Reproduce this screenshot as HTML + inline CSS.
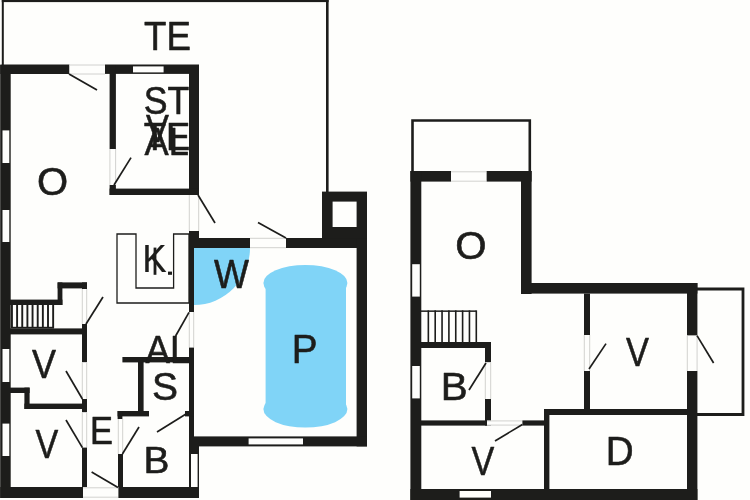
<!DOCTYPE html>
<html><head><meta charset="utf-8"><title>Floor plan</title>
<style>
html,body{margin:0;padding:0;background:#fefefc;}
body{width:750px;height:500px;overflow:hidden;}
svg{display:block;}
text{font-family:"Liberation Sans",sans-serif;fill:#1d1d1b;stroke:#1d1d1b;stroke-width:0.6px;stroke-linejoin:round;}
</style></head><body>
<svg width="750" height="500" viewBox="0 0 750 500">
<rect x="0" y="0" width="750" height="500" fill="#fefefc"/>
<rect x="1.8" y="0" width="2" height="66" fill="#1d1d1b"/>
<rect x="1.8" y="0" width="326.8" height="2.1" fill="#1d1d1b"/>
<rect x="326" y="0" width="2.6" height="192" fill="#1d1d1b"/>
<path d="M194 248 L250 248 A56 57 0 0 1 194 305 Z" fill="#80d4f7"/>
<ellipse cx="305.4" cy="283" rx="42" ry="18" fill="#80d4f7"/>
<ellipse cx="305.4" cy="409" rx="42" ry="18.6" fill="#80d4f7"/>
<rect x="265.6" y="283" width="80.4" height="126" fill="#80d4f7"/>
<rect x="0.2" y="65" width="10.5" height="433" fill="#1d1d1b"/>
<rect x="0.3" y="64.5" width="69.2" height="9.5" fill="#1d1d1b"/>
<rect x="105" y="64.5" width="94" height="9.4" fill="#1d1d1b"/>
<rect x="69.5" y="64.7" width="35.5" height="9.6" fill="#fefefc"/>
<line x1="69.5" y1="65" x2="105" y2="65" stroke="#cdcdcb" stroke-width="0.9" stroke-linecap="butt"/>
<line x1="69.5" y1="74" x2="105" y2="74" stroke="#cdcdcb" stroke-width="0.9" stroke-linecap="butt"/>
<rect x="109.6" y="65" width="6.3" height="84" fill="#1d1d1b"/>
<rect x="109.6" y="149" width="6.3" height="36" fill="#fefefc"/>
<line x1="109.9" y1="149" x2="109.9" y2="185" stroke="#cdcdcb" stroke-width="0.9" stroke-linecap="butt"/>
<line x1="115.6" y1="149" x2="115.6" y2="185" stroke="#cdcdcb" stroke-width="0.9" stroke-linecap="butt"/>
<rect x="109.6" y="185" width="6.3" height="10" fill="#1d1d1b"/>
<rect x="189" y="65" width="10" height="130" fill="#1d1d1b"/>
<rect x="109.6" y="188.6" width="89.4" height="6.4" fill="#1d1d1b"/>
<rect x="189" y="195" width="10" height="36" fill="#fefefc"/>
<line x1="189.3" y1="195" x2="189.3" y2="231" stroke="#cdcdcb" stroke-width="0.9" stroke-linecap="butt"/>
<line x1="198.7" y1="195" x2="198.7" y2="231" stroke="#cdcdcb" stroke-width="0.9" stroke-linecap="butt"/>
<rect x="189" y="231" width="10" height="17" fill="#1d1d1b"/>
<rect x="189" y="238" width="61" height="10" fill="#1d1d1b"/>
<rect x="250" y="238" width="36" height="10" fill="#fefefc"/>
<line x1="250" y1="238.3" x2="286" y2="238.3" stroke="#cdcdcb" stroke-width="0.9" stroke-linecap="butt"/>
<line x1="250" y1="247.7" x2="286" y2="247.7" stroke="#cdcdcb" stroke-width="0.9" stroke-linecap="butt"/>
<rect x="286" y="238" width="81" height="10" fill="#1d1d1b"/>
<rect x="356.6" y="238" width="10.4" height="208.4" fill="#1d1d1b"/>
<rect x="189" y="436.4" width="178" height="10" fill="#1d1d1b"/>
<rect x="189" y="248" width="5" height="64" fill="#1d1d1b"/>
<rect x="189" y="312" width="5" height="35.6" fill="#fefefc"/>
<line x1="189.3" y1="312" x2="189.3" y2="347.6" stroke="#cdcdcb" stroke-width="0.9" stroke-linecap="butt"/>
<line x1="193.7" y1="312" x2="193.7" y2="347.6" stroke="#cdcdcb" stroke-width="0.9" stroke-linecap="butt"/>
<rect x="189" y="347.6" width="5" height="89.4" fill="#1d1d1b"/>
<rect x="322" y="191.6" width="45" height="46.9" fill="#1d1d1b"/>
<rect x="332.6" y="201.6" width="24" height="25.4" fill="#fefefc"/>
<polygon points="117,234 136,234 136,288 173.6,288 173.6,234 189,234 189,303 117,303" fill="none" stroke="#1d1d1b" stroke-width="1.3" stroke-linejoin="miter"/>
<rect x="57.6" y="282.4" width="29.4" height="6" fill="#1d1d1b"/>
<rect x="57.6" y="282.4" width="4.8" height="22.6" fill="#1d1d1b"/>
<rect x="10" y="299.6" width="52.4" height="5.4" fill="#1d1d1b"/>
<rect x="82" y="282.4" width="5" height="6.6" fill="#1d1d1b"/>
<rect x="82" y="289" width="5" height="35" fill="#fefefc"/>
<line x1="82.3" y1="289" x2="82.3" y2="324" stroke="#cdcdcb" stroke-width="0.9" stroke-linecap="butt"/>
<line x1="86.7" y1="289" x2="86.7" y2="324" stroke="#cdcdcb" stroke-width="0.9" stroke-linecap="butt"/>
<rect x="11" y="305" width="1.9" height="23" fill="#1d1d1b"/>
<rect x="16.15" y="305" width="1.9" height="23" fill="#1d1d1b"/>
<rect x="21.3" y="305" width="1.9" height="23" fill="#1d1d1b"/>
<rect x="26.45" y="305" width="1.9" height="23" fill="#1d1d1b"/>
<rect x="31.6" y="305" width="1.9" height="23" fill="#1d1d1b"/>
<rect x="36.75" y="305" width="1.9" height="23" fill="#1d1d1b"/>
<rect x="41.9" y="305" width="1.9" height="23" fill="#1d1d1b"/>
<rect x="47.05" y="305" width="1.9" height="23" fill="#1d1d1b"/>
<rect x="52.2" y="305" width="1.9" height="23" fill="#1d1d1b"/>
<rect x="11" y="326.8" width="43" height="1.8" fill="#1d1d1b"/>
<rect x="10" y="328.4" width="77" height="6" fill="#1d1d1b"/>
<rect x="82" y="324" width="5" height="38.4" fill="#1d1d1b"/>
<rect x="82" y="362.4" width="5" height="36.6" fill="#fefefc"/>
<line x1="82.3" y1="362.4" x2="82.3" y2="399" stroke="#cdcdcb" stroke-width="0.9" stroke-linecap="butt"/>
<line x1="86.7" y1="362.4" x2="86.7" y2="399" stroke="#cdcdcb" stroke-width="0.9" stroke-linecap="butt"/>
<rect x="82" y="399" width="5" height="13.4" fill="#1d1d1b"/>
<rect x="10" y="387.6" width="19.6" height="5.4" fill="#1d1d1b"/>
<rect x="24.4" y="387.6" width="5.2" height="21.4" fill="#1d1d1b"/>
<rect x="24.4" y="403.6" width="62.6" height="5.4" fill="#1d1d1b"/>
<rect x="82" y="412.4" width="5" height="35.2" fill="#fefefc"/>
<line x1="82.3" y1="412.4" x2="82.3" y2="447.6" stroke="#cdcdcb" stroke-width="0.9" stroke-linecap="butt"/>
<line x1="86.7" y1="412.4" x2="86.7" y2="447.6" stroke="#cdcdcb" stroke-width="0.9" stroke-linecap="butt"/>
<rect x="82" y="447.6" width="5" height="39.4" fill="#1d1d1b"/>
<rect x="0.3" y="487" width="82.7" height="11" fill="#1d1d1b"/>
<rect x="83" y="487.5" width="35.4" height="10" fill="#fefefc"/>
<line x1="83" y1="487.8" x2="118.4" y2="487.8" stroke="#cdcdcb" stroke-width="0.9" stroke-linecap="butt"/>
<line x1="83" y1="497.2" x2="118.4" y2="497.2" stroke="#cdcdcb" stroke-width="0.9" stroke-linecap="butt"/>
<rect x="118.4" y="487" width="80.6" height="11" fill="#1d1d1b"/>
<rect x="118" y="454" width="5" height="33" fill="#1d1d1b"/>
<rect x="118" y="419" width="5" height="35" fill="#fefefc"/>
<line x1="118.3" y1="419" x2="118.3" y2="454" stroke="#cdcdcb" stroke-width="0.9" stroke-linecap="butt"/>
<line x1="122.7" y1="419" x2="122.7" y2="454" stroke="#cdcdcb" stroke-width="0.9" stroke-linecap="butt"/>
<rect x="122.4" y="357" width="66.6" height="5.4" fill="#1d1d1b"/>
<rect x="138" y="362" width="5.6" height="49" fill="#1d1d1b"/>
<rect x="117.6" y="411" width="31.4" height="5.4" fill="#1d1d1b"/>
<rect x="117.6" y="411" width="4.8" height="8" fill="#1d1d1b"/>
<rect x="185" y="411" width="9" height="5.4" fill="#1d1d1b"/>
<rect x="189" y="437" width="10" height="61" fill="#1d1d1b"/>
<rect x="191" y="454" width="6.6" height="33" fill="#fefefc"/>
<rect x="2.5" y="130.4" width="6.8" height="32.6" fill="#fefefc"/>
<rect x="2.5" y="210" width="6.8" height="32" fill="#fefefc"/>
<rect x="2.5" y="349" width="6.8" height="33" fill="#fefefc"/>
<rect x="2.5" y="423.6" width="6.8" height="32.4" fill="#fefefc"/>
<rect x="133" y="66.4" width="30.6" height="6" fill="#fefefc"/>
<rect x="248.6" y="438.4" width="54.4" height="6" fill="#fefefc"/>
<line x1="69" y1="74" x2="97" y2="90" stroke="#1d1d1b" stroke-width="1.7" stroke-linecap="butt"/>
<line x1="114" y1="185" x2="131" y2="157.6" stroke="#1d1d1b" stroke-width="1.7" stroke-linecap="butt"/>
<line x1="198" y1="195" x2="215" y2="223" stroke="#1d1d1b" stroke-width="1.7" stroke-linecap="butt"/>
<line x1="286" y1="238" x2="258" y2="222.4" stroke="#1d1d1b" stroke-width="1.7" stroke-linecap="butt"/>
<line x1="189" y1="312.4" x2="175.6" y2="336" stroke="#1d1d1b" stroke-width="1.7" stroke-linecap="butt"/>
<line x1="86" y1="324" x2="103" y2="297" stroke="#1d1d1b" stroke-width="1.7" stroke-linecap="butt"/>
<line x1="82.4" y1="399" x2="66" y2="371" stroke="#1d1d1b" stroke-width="1.7" stroke-linecap="butt"/>
<line x1="82.4" y1="447.6" x2="66" y2="420" stroke="#1d1d1b" stroke-width="1.7" stroke-linecap="butt"/>
<line x1="118" y1="487.6" x2="91.6" y2="472" stroke="#1d1d1b" stroke-width="1.7" stroke-linecap="butt"/>
<line x1="122.4" y1="454" x2="139" y2="427" stroke="#1d1d1b" stroke-width="1.7" stroke-linecap="butt"/>
<line x1="186" y1="414" x2="157" y2="432" stroke="#1d1d1b" stroke-width="1.7" stroke-linecap="butt"/>
<polyline points="412.5,172 412.5,120.5 529.8,120.5 529.8,172" fill="none" stroke="#1d1d1b" stroke-width="2.6" stroke-linejoin="miter"/>
<rect x="410.4" y="171" width="40.6" height="10.6" fill="#1d1d1b"/>
<rect x="486.4" y="171" width="45.2" height="10.6" fill="#1d1d1b"/>
<rect x="451" y="171.5" width="35.4" height="10" fill="#fefefc"/>
<line x1="451" y1="171.8" x2="486.4" y2="171.8" stroke="#cdcdcb" stroke-width="0.9" stroke-linecap="butt"/>
<line x1="451" y1="181.2" x2="486.4" y2="181.2" stroke="#cdcdcb" stroke-width="0.9" stroke-linecap="butt"/>
<rect x="410.4" y="171" width="10.9" height="329" fill="#1d1d1b"/>
<rect x="521" y="171" width="10.6" height="123" fill="#1d1d1b"/>
<rect x="521" y="283" width="176.4" height="10.6" fill="#1d1d1b"/>
<rect x="687" y="283" width="10.4" height="52.6" fill="#1d1d1b"/>
<rect x="687" y="335.6" width="10.4" height="35.4" fill="#fefefc"/>
<line x1="687.3" y1="335.6" x2="687.3" y2="371" stroke="#cdcdcb" stroke-width="0.9" stroke-linecap="butt"/>
<line x1="697.1" y1="335.6" x2="697.1" y2="371" stroke="#cdcdcb" stroke-width="0.9" stroke-linecap="butt"/>
<rect x="687" y="371" width="10.4" height="129" fill="#1d1d1b"/>
<rect x="410.4" y="489" width="287" height="11" fill="#1d1d1b"/>
<rect x="459.6" y="491" width="31.4" height="6.6" fill="#fefefc"/>
<rect x="412.2" y="264.2" width="7.6" height="32.4" fill="#fefefc"/>
<rect x="412.2" y="366" width="7.6" height="32.4" fill="#fefefc"/>
<rect x="421" y="310.4" width="55.4" height="1.5" fill="#1d1d1b"/>
<rect x="427.55" y="310.4" width="1.6" height="31.6" fill="#1d1d1b"/>
<rect x="434.4" y="310.4" width="1.6" height="31.6" fill="#1d1d1b"/>
<rect x="441.25" y="310.4" width="1.6" height="31.6" fill="#1d1d1b"/>
<rect x="448.1" y="310.4" width="1.6" height="31.6" fill="#1d1d1b"/>
<rect x="454.95" y="310.4" width="1.6" height="31.6" fill="#1d1d1b"/>
<rect x="461.8" y="310.4" width="1.6" height="31.6" fill="#1d1d1b"/>
<rect x="468.65" y="310.4" width="1.6" height="31.6" fill="#1d1d1b"/>
<rect x="475.5" y="310.4" width="1.6" height="31.6" fill="#1d1d1b"/>
<rect x="421" y="342" width="70" height="6" fill="#1d1d1b"/>
<rect x="485" y="342" width="6" height="20.4" fill="#1d1d1b"/>
<rect x="485" y="362.4" width="6" height="36.6" fill="#fefefc"/>
<line x1="485.3" y1="362.4" x2="485.3" y2="399" stroke="#cdcdcb" stroke-width="0.9" stroke-linecap="butt"/>
<line x1="490.7" y1="362.4" x2="490.7" y2="399" stroke="#cdcdcb" stroke-width="0.9" stroke-linecap="butt"/>
<rect x="485" y="399" width="6" height="26.6" fill="#1d1d1b"/>
<rect x="421" y="420.4" width="66" height="5.2" fill="#1d1d1b"/>
<rect x="487" y="420.6" width="35.4" height="4.8" fill="#fefefc"/>
<line x1="487" y1="420.9" x2="522.4" y2="420.9" stroke="#cdcdcb" stroke-width="0.9" stroke-linecap="butt"/>
<line x1="487" y1="425.1" x2="522.4" y2="425.1" stroke="#cdcdcb" stroke-width="0.9" stroke-linecap="butt"/>
<rect x="522.4" y="420.4" width="21.6" height="5.2" fill="#1d1d1b"/>
<rect x="544" y="409" width="5.4" height="80" fill="#1d1d1b"/>
<rect x="544" y="409" width="143" height="6" fill="#1d1d1b"/>
<rect x="584" y="293.6" width="6" height="41.4" fill="#1d1d1b"/>
<rect x="584" y="335" width="6" height="36" fill="#fefefc"/>
<line x1="584.3" y1="335" x2="584.3" y2="371" stroke="#cdcdcb" stroke-width="0.9" stroke-linecap="butt"/>
<line x1="589.7" y1="335" x2="589.7" y2="371" stroke="#cdcdcb" stroke-width="0.9" stroke-linecap="butt"/>
<rect x="584" y="371" width="6" height="38" fill="#1d1d1b"/>
<polyline points="697,289 743,289 743,414.5 697,414.5" fill="none" stroke="#1d1d1b" stroke-width="2.8" stroke-linejoin="miter"/>
<line x1="486" y1="363" x2="469" y2="390" stroke="#1d1d1b" stroke-width="1.7" stroke-linecap="butt"/>
<line x1="522.4" y1="424.4" x2="495" y2="441" stroke="#1d1d1b" stroke-width="1.7" stroke-linecap="butt"/>
<line x1="589" y1="369" x2="606" y2="343.6" stroke="#1d1d1b" stroke-width="1.7" stroke-linecap="butt"/>
<line x1="697" y1="335.6" x2="713.6" y2="363" stroke="#1d1d1b" stroke-width="1.7" stroke-linecap="butt"/>
<g id="txt" opacity="0.999">
<text transform="translate(143.97 50.2) scale(0.921 1)" font-size="39.86">TE</text>
<text transform="translate(36.9 194.92) scale(1.052 1)" font-size="38.03">O</text>
<text transform="translate(143.71 113.51) scale(0.925 1)" font-size="38.59">ST</text>
<text transform="translate(213.93 287.8) scale(0.915 1)" font-size="40.43">W</text>
<text transform="translate(291.71 362.8) scale(0.963 1)" font-size="40.14">P</text>
<text transform="translate(31.94 377.8) scale(0.903 1)" font-size="39.86">V</text>
<text transform="translate(35.56 457.8) scale(0.845 1)" font-size="40.43">V</text>
<text transform="translate(89.94 444.3) scale(0.9 1)" font-size="38.26">E</text>
<text transform="translate(151.95 399.62) scale(1.013 1)" font-size="38.45">S</text>
<text transform="translate(143.59 472.8) scale(1.028 1)" font-size="37.83">B</text>
<text transform="translate(455.29 259.31) scale(1.044 1)" font-size="38.59">O</text>
<text transform="translate(440.67 399.8) scale(1.028 1)" font-size="39.28">B</text>
<text transform="translate(471.56 474.8) scale(0.839 1)" font-size="40.72">V</text>
<text transform="translate(625.96 365.8) scale(0.852 1)" font-size="40.43">V</text>
<text transform="translate(605.81 464.8) scale(0.97 1)" font-size="39.86">D</text>
<text transform="translate(145.9 141.7) scale(0.87 1)" font-size="39.5">V</text>
<text transform="translate(143.8 150) scale(0.92 1)" font-size="39.5">TE</text>
<text transform="translate(144.5 154.5) scale(0.92 1)" font-size="39.5">AL</text>
<text transform="translate(142.3 272.4) scale(0.95 1)" font-size="38.6" style="stroke-width:0.2px">K</text>
<rect x="153.6" y="247.6" width="2.8" height="27.2" fill="#1d1d1b"/>
<rect x="168" y="271.6" width="4" height="3.2" fill="#1d1d1b"/>
<text transform="translate(145.6 362.6) scale(0.93 1)" font-size="39.5">AL</text>
</g>
</svg>
</body></html>
